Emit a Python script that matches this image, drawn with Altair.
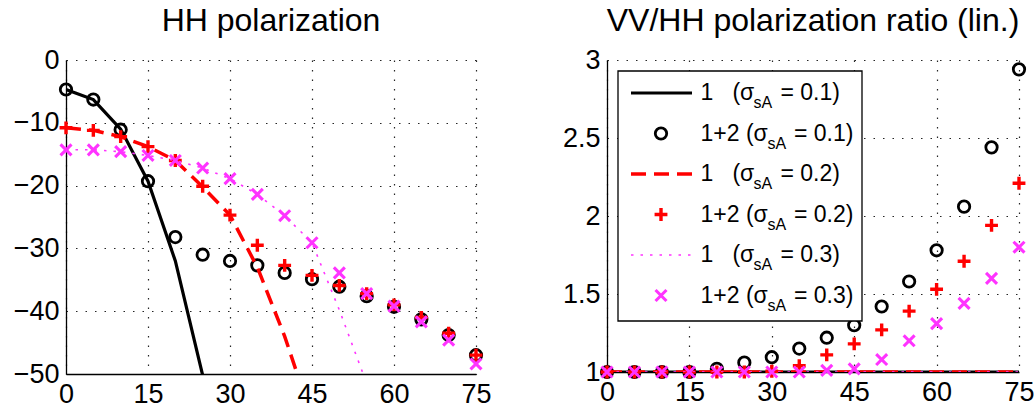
import altair as alt
import pandas as pd

FONT = "Liberation Sans"

# ---------------- data ----------------
angles = [0, 5, 10, 15, 20, 25, 30, 35, 40, 45, 50, 55, 60, 65, 70, 75]

# HH polarization (dB): single-scattering curves ("1"), they leave the frame below -50
hh_line_s01 = [-4.7, -6.3, -11.0, -19.3, -32.0, -50.2]
hh_line_s02 = [-10.8, -11.2, -12.2, -13.8, -16.0, -20.2, -24.7, -33.0, -44.0, -57.0]
hh_line_s03 = [-14.3, -14.3, -14.6, -15.2, -16.0, -17.2, -18.9, -21.4, -24.8, -29.1, -39.8, -51.5]

# HH polarization (dB): single + double scattering ("1+2")
hh_pts_s01 = [-4.7, -6.3, -11.1, -19.3, -28.2, -31.0, -32.0, -32.7, -33.9, -34.9, -36.1, -37.6, -39.3, -41.3, -43.8, -47.0]
hh_pts_s02 = [-10.8, -11.2, -12.2, -13.8, -16.0, -20.1, -24.7, -29.5, -32.7, -34.3, -35.9, -37.2, -39.0, -41.0, -43.5, -47.0]
hh_pts_s03 = [-14.3, -14.3, -14.6, -15.2, -16.0, -17.2, -18.9, -21.4, -24.8, -29.1, -33.9, -37.2, -39.2, -41.7, -44.6, -48.4]

# VV/HH ratio (linear)
ratio_line_s01 = [1.0, 1.0, 1.0, 1.0, 1.0, 1.0, 1.0, 1.0, 1.0, 1.0, 1.0, 1.0, 1.0, 1.0, 1.0, 1.0]
ratio_line_s02 = [1.0, 1.0, 1.0, 1.0, 1.0, 1.0, 1.0, 1.0, 1.0, 1.0, 1.0, 1.0, 1.0, 1.0, 1.0, 1.0]
ratio_line_s03 = [1.0, 1.0, 1.0, 1.0, 1.0, 1.0, 1.0, 1.0, 1.0, 1.0, 1.0, 1.0, 1.0, 1.0, 1.0, 1.0]
ratio_pts_s01 = [1.0, 1.0, 1.0, 1.0, 1.02, 1.06, 1.095, 1.15, 1.22, 1.30, 1.42, 1.58, 1.78, 2.06, 2.44, 2.94]
ratio_pts_s02 = [1.0, 1.0, 1.0, 1.0, 1.0, 1.0, 1.005, 1.04, 1.11, 1.18, 1.27, 1.39, 1.53, 1.71, 1.94, 2.21]
ratio_pts_s03 = [1.0, 1.0, 1.0, 1.0, 1.0, 1.0, 1.0, 1.0, 1.01, 1.02, 1.08, 1.20, 1.31, 1.44, 1.60, 1.80]

x_ticks = [0, 15, 30, 45, 60, 75]
hh_ticks = [-50, -40, -30, -20, -10, 0]
ratio_ticks = [1, 1.5, 2, 2.5, 3]

legend_prefix = ["1", "1+2", "1", "1+2", "1", "1+2"]
legend_sigma = ["0.1", "0.1", "0.2", "0.2", "0.3", "0.3"]

# ---------------- styles ----------------
BLACK = "#000000"
RED = "#ff0000"
MAGENTA = "#ff33ff"
PLUS = "M-1,0L1,0M0,-1L0,1"
XMARK = "M-1,-1L1,1M1,-1L-1,1"

AXIS_STYLE = dict(
    title=None, labelOverlap=False, labelFont=FONT, labelFontSize=27, labelColor="black",
    labelPadding=7, domainColor="black", domainWidth=1.3, ticks=False,
    grid=True, gridColor="black", gridDash=[1.5, 8], gridWidth=1.2, gridOpacity=0.85,
)
MINUS_EXPR = "datum.value < 0 ? '\u2212' + format(abs(datum.value), '~r') : format(datum.value, '~r')"


def frame(angs, vals):
    return pd.DataFrame({"angle": angs[: len(vals)], "value": vals})


def xenc():
    return alt.X(
        "angle:Q",
        scale=alt.Scale(domain=[0, 75], nice=False, zero=False),
        axis=alt.Axis(values=x_ticks, labelFlush=False, format="d", **AXIS_STYLE),
    )


def yenc(domain, ticks):
    return alt.Y(
        "value:Q",
        scale=alt.Scale(domain=domain, nice=False, zero=False),
        axis=alt.Axis(values=ticks, labelExpr=MINUS_EXPR, **AXIS_STYLE),
    )


def series_layers(lines, pts, domain, ticks):
    l1, l2, l3 = lines
    p1, p2, p3 = pts
    enc = dict(x=xenc(), y=yenc(domain, ticks))
    return [
        alt.Chart(frame(angles, l1)).mark_line(color=BLACK, strokeWidth=3.2, clip=True).encode(**enc),
        alt.Chart(frame(angles, p1)).mark_point(shape="circle", filled=False, color=BLACK, size=130,
                                                strokeWidth=2.8, opacity=1).encode(**enc),
        alt.Chart(frame(angles, l2)).mark_line(color=RED, strokeWidth=3.5, strokeDash=[15, 8], clip=True).encode(**enc),
        alt.Chart(frame(angles, p2)).mark_point(shape=PLUS, filled=False, color=RED, size=165,
                                                strokeWidth=3.4, opacity=1).encode(**enc),
        alt.Chart(frame(angles, l3)).mark_line(color=MAGENTA, strokeWidth=1.6, strokeDash=[2.5, 7], clip=True).encode(**enc),
        alt.Chart(frame(angles, p3)).mark_point(shape=XMARK, filled=False, color=MAGENTA, size=120,
                                                strokeWidth=3.1, opacity=1).encode(**enc),
    ]


def title(text):
    return alt.TitleParams(text, font=FONT, fontSize=32, fontWeight="normal", color="black",
                           anchor="middle", frame="group", baseline="alphabetic", offset=-17)


left = alt.layer(
    *series_layers((hh_line_s01, hh_line_s02, hh_line_s03), (hh_pts_s01, hh_pts_s02, hh_pts_s03),
                   [-50, 0], hh_ticks)
).properties(width=410, height=314, title=title("HH polarization"))

# ---------------- hand-drawn legend (pixel positions inside the right panel) ----------------
one = pd.DataFrame({"k": [0]})
ROW0, STEP = 33.0, 40.5
legend_box = alt.Chart(one).mark_rect(fill="white", stroke="black", strokeWidth=1.3).encode(
    x=alt.value(11), x2=alt.value(255), y=alt.value(11), y2=alt.value(261))

samples = [
    alt.Chart(one).mark_rule(color=BLACK, strokeWidth=3.2).encode(
        x=alt.value(24), x2=alt.value(85), y=alt.value(ROW0 + 0 * STEP)),
    alt.Chart(one).mark_point(shape="circle", filled=False, color=BLACK, size=130, strokeWidth=2.8, opacity=1).encode(
        x=alt.value(54), y=alt.value(ROW0 + 1 * STEP)),
    alt.Chart(one).mark_rule(color=RED, strokeWidth=3.5, strokeDash=[15, 8]).encode(
        x=alt.value(24), x2=alt.value(85), y=alt.value(ROW0 + 2 * STEP)),
    alt.Chart(one).mark_point(shape=PLUS, filled=False, color=RED, size=165, strokeWidth=3.4, opacity=1).encode(
        x=alt.value(54), y=alt.value(ROW0 + 3 * STEP)),
    alt.Chart(one).mark_rule(color=MAGENTA, strokeWidth=1.6, strokeDash=[2.5, 7]).encode(
        x=alt.value(24), x2=alt.value(85), y=alt.value(ROW0 + 4 * STEP)),
    alt.Chart(one).mark_point(shape=XMARK, filled=False, color=MAGENTA, size=120, strokeWidth=3.1, opacity=1).encode(
        x=alt.value(54), y=alt.value(ROW0 + 5 * STEP)),
]

NB = "\u00a0"
legend_df = pd.DataFrame({
    "row": list(range(len(legend_prefix))),
    "prefix": legend_prefix,
    "main": [(p + NB * 3 + "(σ") if p == "1" else (p + " (σ") for p in legend_prefix],
    "suffix": ["= " + s + ")" for s in legend_sigma],
})
legend_base = alt.Chart(legend_df).transform_calculate(
    ty=f"{ROW0} + {STEP} * datum.row",
    tys=f"{ROW0} + 10 + {STEP} * datum.row",
    xs="datum.prefix == '1' ? 146.5 : 160.5",
    xe="datum.prefix == '1' ? 173.5 : 187",
)
legend_main = legend_base.mark_text(align="left", baseline="middle", font=FONT, fontSize=23, color="black").encode(
    x=alt.value(93.5), y=alt.Y("ty:Q", scale=None), text="main:N")
legend_sub = legend_base.mark_text(align="left", baseline="middle", font=FONT, fontSize=16, color="black").encode(
    x=alt.X("xs:Q", scale=None), y=alt.Y("tys:Q", scale=None), text=alt.value("sA"))
legend_suf = legend_base.mark_text(align="left", baseline="middle", font=FONT, fontSize=23, color="black").encode(
    x=alt.X("xe:Q", scale=None), y=alt.Y("ty:Q", scale=None), text="suffix:N")

right = alt.layer(
    *series_layers((ratio_line_s01, ratio_line_s02, ratio_line_s03), (ratio_pts_s01, ratio_pts_s02, ratio_pts_s03),
                   [1, 3], ratio_ticks),
    legend_box, *samples, legend_main, legend_sub, legend_suf,
).properties(width=412, height=312, title=title("VV/HH polarization ratio (lin.)"))

chart = alt.hconcat(left, right, spacing=131, bounds="flush").properties(
    padding={"left": 13, "top": 5, "right": 0, "bottom": 0}, background="white"
).configure_view(strokeWidth=0)

chart.save("out.html", embed_options={"renderer": "svg", "actions": False})
